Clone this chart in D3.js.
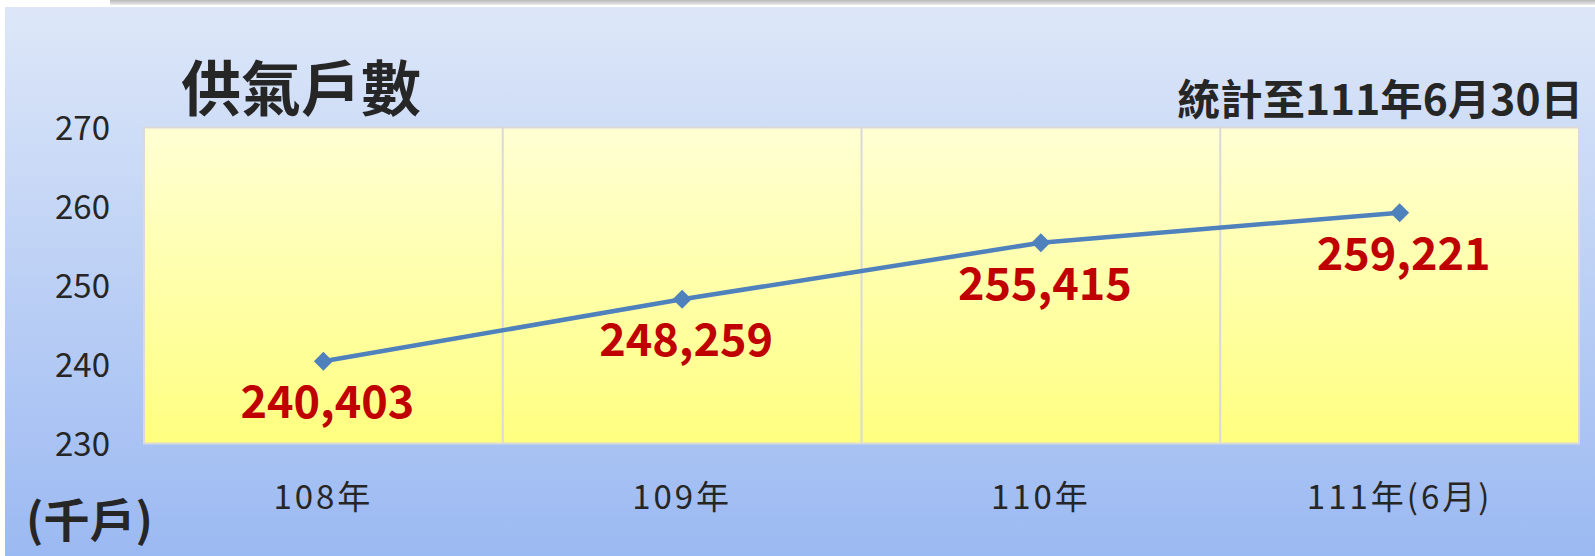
<!DOCTYPE html>
<html>
<head>
<meta charset="utf-8">
<script src="https://cdn.jsdelivr.net/npm/d3@7"></script>
<style>
  body { margin: 0; background: #fff; }
  svg { display: block; font-family: "Noto Sans CJK TC", "Noto Sans", sans-serif; }
</style>
</head>
<body>
<svg width="1595" height="556"></svg>
<script>
const categories = ['108年', '109年', '110年', '111年(6月)'];
const values = [240.403, 248.259, 255.415, 259.221];
const valueLabels = ['240,403', '248,259', '255,415', '259,221'];
const yTicks = [230, 240, 250, 260, 270];

const svg = d3.select('svg');
const width = +svg.attr('width');
const height = +svg.attr('height');

const margin = { top: 127.5, right: 16, bottom: 112.5, left: 144 };
const innerWidth = width - margin.left - margin.right;
const innerHeight = height - margin.top - margin.bottom;

const defs = svg.append('defs');

const bgGrad = defs.append('linearGradient')
  .attr('id', 'bgGrad').attr('x1', 0).attr('y1', 0).attr('x2', 0).attr('y2', 1);
bgGrad.append('stop').attr('offset', '0%').attr('stop-color', '#dde7f8');
bgGrad.append('stop').attr('offset', '100%').attr('stop-color', '#9bb9f2');

const plotGrad = defs.append('linearGradient')
  .attr('id', 'plotGrad').attr('x1', 0).attr('y1', 0).attr('x2', 0).attr('y2', 1);
plotGrad.append('stop').attr('offset', '0%').attr('stop-color', '#ffffd4');
plotGrad.append('stop').attr('offset', '100%').attr('stop-color', '#ffff80');

const stripGrad = defs.append('linearGradient')
  .attr('id', 'stripGrad').attr('x1', 0).attr('y1', 0).attr('x2', 0).attr('y2', 1);
stripGrad.append('stop').attr('offset', '0%').attr('stop-color', '#b8b8b8');
stripGrad.append('stop').attr('offset', '100%').attr('stop-color', '#ececec');

// page strip and background
svg.append('rect')
  .attr('x', 110).attr('y', 0).attr('width', width - 110).attr('height', 5)
  .attr('fill', 'url(#stripGrad)');
svg.append('rect')
  .attr('x', 5).attr('y', 7).attr('width', width - 5).attr('height', height - 7)
  .attr('fill', 'url(#bgGrad)');

const g = svg.append('g')
  .attr('transform', `translate(${margin.left},${margin.top})`);

const xScale = d3.scaleBand()
  .domain(categories)
  .range([0, innerWidth])
  .padding(0);

const yScale = d3.scaleLinear()
  .domain([230, 270])
  .range([innerHeight, 0]);

const xCenter = d => xScale(d) + xScale.bandwidth() / 2;

// plot area
g.append('rect')
  .attr('width', innerWidth)
  .attr('height', innerHeight)
  .attr('fill', 'url(#plotGrad)')
  .attr('stroke', '#d9d9d9')
  .attr('stroke-width', 2);

// vertical grid between categories
g.selectAll('.vgrid').data(categories.slice(1))
  .enter().append('line')
    .attr('class', 'vgrid')
    .attr('x1', d => xScale(d))
    .attr('x2', d => xScale(d))
    .attr('y1', 0)
    .attr('y2', innerHeight)
    .attr('stroke', '#d9d9d9')
    .attr('stroke-width', 2);

// y axis
const yAxis = d3.axisLeft(yScale)
  .tickValues(yTicks)
  .tickSize(0)
  .tickPadding(34);

const yAxisG = g.append('g').call(yAxis);
yAxisG.select('.domain').remove();
yAxisG.selectAll('text')
  .attr('font-family', '"Noto Sans CJK TC", sans-serif')
  .attr('font-size', 33)
  .attr('fill', '#262626')
  .attr('dy', '0.36em');

// x axis
const xAxis = d3.axisBottom(xScale).tickSize(0);
const xAxisG = g.append('g')
  .attr('transform', `translate(0,${innerHeight})`)
  .call(xAxis);
xAxisG.select('.domain').remove();
xAxisG.selectAll('text')
  .attr('font-family', '"Noto Sans CJK TC", sans-serif')
  .attr('font-size', 33)
  .attr('letter-spacing', 3)
  .attr('fill', '#262626')
  .attr('y', 65)
  .attr('dy', 0);

// line
const line = d3.line()
  .x((d, i) => xCenter(categories[i]))
  .y(d => yScale(d));

g.append('path')
  .datum(values)
  .attr('d', line)
  .attr('fill', 'none')
  .attr('stroke', '#4f81bd')
  .attr('stroke-width', 4.5);

// diamond markers
g.selectAll('.marker').data(values)
  .enter().append('path')
    .attr('class', 'marker')
    .attr('d', d3.symbol().type(d3.symbolDiamond2).size(230))
    .attr('transform', (d, i) => `translate(${xCenter(categories[i])},${yScale(d)})`)
    .attr('fill', '#4f81bd');

// value labels
g.selectAll('.value-label').data(values)
  .enter().append('text')
    .attr('class', 'value-label')
    .attr('x', (d, i) => xCenter(categories[i]) + 4)
    .attr('y', d => yScale(d) + 57)
    .attr('text-anchor', 'middle')
    .attr('font-size', 45)
    .attr('font-weight', 'bold')
    .attr('fill', '#c00000')
    .text((d, i) => valueLabels[i]);

// titles
svg.append('text')
  .attr('x', 181)
  .attr('y', 111)
  .attr('font-size', 60)
  .attr('font-weight', 'bold')
  .attr('fill', '#262626')
  .text('供氣戶數');

svg.append('text')
  .attr('x', 1583)
  .attr('y', 115)
  .attr('text-anchor', 'end')
  .attr('font-size', 42.5)
  .attr('font-weight', 'bold')
  .attr('fill', '#262626')
  .text('統計至111年6月30日');

svg.append('text')
  .attr('x', 26)
  .attr('y', 537)
  .attr('font-size', 46)
  .attr('font-weight', 'bold')
  .attr('fill', '#262626')
  .text('(千戶)');
</script>
</body>
</html>
